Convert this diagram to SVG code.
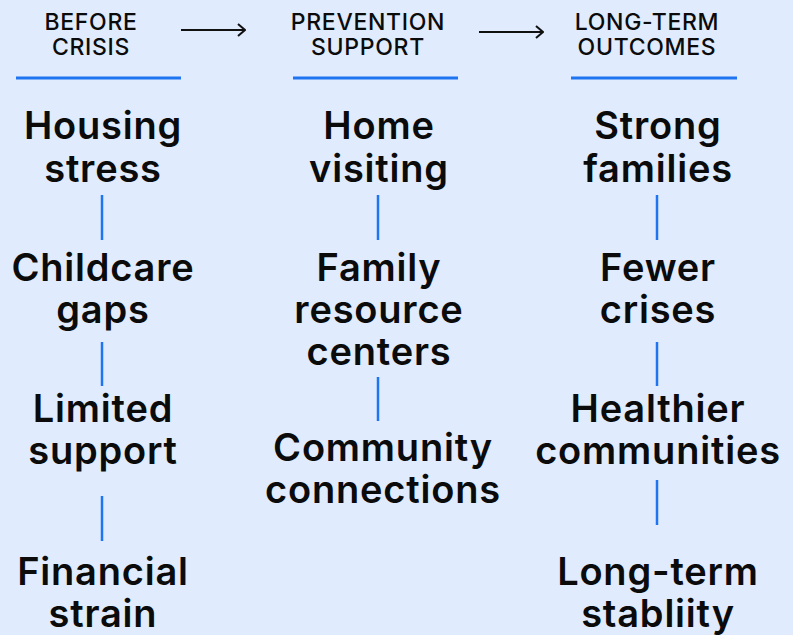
<svg xmlns="http://www.w3.org/2000/svg" width="793" height="635" viewBox="0 0 793 635">
  <defs>
    <style>
      .bg { fill: #E0EBFD; }
      .head { font-family: Inter, "Liberation Sans", sans-serif; font-size: 23px; font-weight: 500; fill: #0B0B0B; text-anchor: middle; letter-spacing: 0.7px; }
      .item { font-family: Inter, "Liberation Sans", sans-serif; font-size: 38px; font-weight: 600; fill: #0B0B0B; text-anchor: middle; letter-spacing: 0.8px; }
      .rule { stroke: #1F74F2; stroke-width: 3; fill: none; }
      .link { stroke: #1F74F2; stroke-width: 2.5; fill: none; }
      .flow { stroke: #111111; stroke-width: 2; fill: none; }
    </style>
    <marker id="chev" viewBox="0 0 12 14" refX="11" refY="7" markerWidth="12" markerHeight="14" markerUnits="userSpaceOnUse" orient="auto">
      <path d="M4 1 L11 7 L4 13" fill="none" stroke="#111111" stroke-width="2"/>
    </marker>
  </defs>

  <rect class="bg" x="0" y="0" width="793" height="635"/>

  <!-- stage headers -->
  <g id="header-before">
    <text class="head" x="91" y="30">BEFORE</text>
    <text class="head" x="91" y="55">CRISIS</text>
    <line class="rule" x1="16" y1="78" x2="181" y2="78"/>
  </g>
  <g id="header-prevention">
    <text class="head" x="368" y="30">PREVENTION</text>
    <text class="head" x="368" y="55">SUPPORT</text>
    <line class="rule" x1="293" y1="78" x2="458" y2="78"/>
  </g>
  <g id="header-outcomes">
    <text class="head" x="647" y="30">LONG-TERM</text>
    <text class="head" x="647" y="55">OUTCOMES</text>
    <line class="rule" x1="571" y1="78" x2="737" y2="78"/>
  </g>

  <!-- column 1 -->
  <g id="housing-stress">
    <text class="item" x="103" y="139">Housing</text>
    <text class="item" x="103" y="182">stress</text>
  </g>
  <g id="childcare-gaps">
    <text class="item" x="103" y="281">Childcare</text>
    <text class="item" x="103" y="323">gaps</text>
  </g>
  <g id="limited-support">
    <text class="item" x="103" y="422">Limited</text>
    <text class="item" x="103" y="464">support</text>
  </g>
  <g id="financial-strain">
    <text class="item" x="103" y="585">Financial</text>
    <text class="item" x="103" y="627">strain</text>
  </g>

  <!-- column 2 -->
  <g id="home-visiting">
    <text class="item" x="379" y="139">Home</text>
    <text class="item" x="379" y="182">visiting</text>
  </g>
  <g id="family-resource-centers">
    <text class="item" x="379" y="281">Family</text>
    <text class="item" x="379" y="323">resource</text>
    <text class="item" x="379" y="365">centers</text>
  </g>
  <g id="community-connections">
    <text class="item" x="383" y="461">Community</text>
    <text class="item" x="383" y="503">connections</text>
  </g>

  <!-- column 3 -->
  <g id="strong-families">
    <text class="item" x="658" y="139">Strong</text>
    <text class="item" x="658" y="182">families</text>
  </g>
  <g id="fewer-crises">
    <text class="item" x="658" y="281">Fewer</text>
    <text class="item" x="658" y="323">crises</text>
  </g>
  <g id="healthier-communities">
    <text class="item" x="658" y="422">Healthier</text>
    <text class="item" x="658" y="464">communities</text>
  </g>
  <g id="long-term-stability">
    <text class="item" x="658" y="585">Long-term</text>
    <text class="item" x="658" y="627">stabliity</text>
  </g>

  <!-- connectors -->
  <g id="connectors">
    <line class="flow" x1="181" y1="30" x2="245" y2="30" marker-end="url(#chev)"/>
    <line class="flow" x1="479" y1="32" x2="543" y2="32" marker-end="url(#chev)"/>

    <line class="link" x1="102" y1="195" x2="102" y2="240"/>
    <line class="link" x1="102" y1="342" x2="102" y2="386"/>
    <line class="link" x1="102" y1="496" x2="102" y2="541"/>

    <line class="link" x1="378" y1="195" x2="378" y2="240"/>
    <line class="link" x1="378" y1="377" x2="378" y2="421"/>

    <line class="link" x1="657" y1="195" x2="657" y2="240"/>
    <line class="link" x1="657" y1="342" x2="657" y2="386"/>
    <line class="link" x1="657" y1="480" x2="657" y2="525"/>
  </g>
</svg>
